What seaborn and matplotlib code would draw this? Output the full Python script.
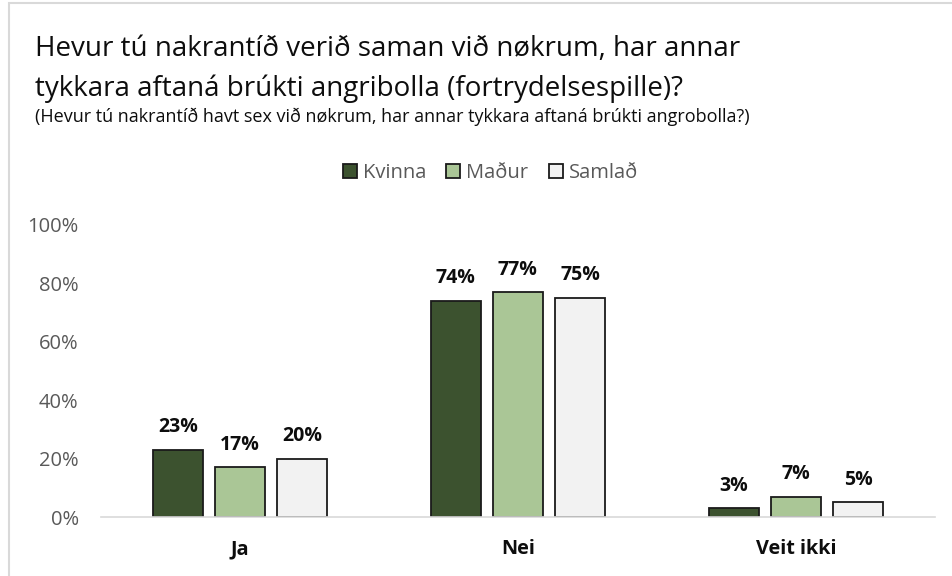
import numpy as np
import pandas as pd
import matplotlib
matplotlib.use("Agg")
import matplotlib.pyplot as plt
import seaborn as sns
from matplotlib.patches import Rectangle

categories = ["Ja", "Nei", "Veit ikki"]
groups = ["Kvinna", "Maður", "Samlað"]
kvinna = [23, 74, 3]
madur = [17, 77, 7]
samlad = [20, 75, 5]
colors = ["#3b5829", "#a9ce8e", "#f2f2f2"]

title = ("Hevur tú nakrantíð verið saman við nøkrum, har annar\n"
         "tykkara aftaná brúkti angribolla (fortrydelsespille)?")
subtitle = "(Hevur tú nakrantíð havt sex við nøkrum, har annar tykkara aftaná brúkti angrobolla?)"

rows = []
for g, vals in zip(groups, [kvinna, madur, samlad]):
    for c, v in zip(categories, vals):
        rows.append({"Svar": c, "Bólkur": g, "Virði": v / 100})
df = pd.DataFrame(rows)

sns.set_theme(style="white")
plt.rcParams['font.family'] = ['Open Sans', 'DejaVu Sans']

fig = plt.figure(figsize=(9.52, 5.76), dpi=100)
ax = fig.add_axes([0.106, 0.1024, 0.876, 0.507])

sns.barplot(data=df, x="Svar", y="Virði", hue="Bólkur", order=categories,
            hue_order=groups, palette=colors, width=0.67, gap=0.2,
            edgecolor="#1a1a1a", linewidth=1.3, ax=ax)

for cont, vals in zip(ax.containers, [kvinna, madur, samlad]):
    ax.bar_label(cont, labels=[f"{v}%" for v in vals], padding=9,
                 fontsize=14, fontweight="bold", color="#0d0d0d")

ax.set_xlim(-0.5, 2.5)
ax.set_ylim(0, 1.0)
ticks = np.arange(0, 1.01, 0.2)
ax.set_yticks(ticks)
ax.set_yticklabels([f"{int(round(t*100))}%" for t in ticks],
                   fontsize=14.5, color="#595959")
ax.tick_params(axis="y", length=0, pad=16)
ax.tick_params(axis="x", length=0, pad=16)
for lab in ax.get_xticklabels():
    lab.set_fontsize(14.3)
    lab.set_fontweight("bold")
    lab.set_color("#0d0d0d")
ax.set_xlabel("")
ax.set_ylabel("")
for s in ["top", "right", "left"]:
    ax.spines[s].set_visible(False)
ax.spines["bottom"].set_color("#d9d9d9")
ax.spines["bottom"].set_linewidth(1.2)

handles, labels = ax.get_legend_handles_labels()
ax.legend(handles, labels, loc="center", bbox_to_anchor=(0.515, 0.70),
          bbox_transform=fig.transFigure, ncol=3, frameon=False,
          fontsize=14.5, handlelength=0.7, handleheight=0.7,
          handletextpad=0.3, columnspacing=1.0, labelcolor="#595959")

fig.text(0.037, 0.94, title, fontsize=20, color="#0d0d0d",
         va="top", ha="left", linespacing=1.55)
fig.text(0.037, 0.797, subtitle, fontsize=13, color="#0d0d0d",
         va="center", ha="left")

fig.add_artist(Rectangle((0.009, -0.1), 2, 1.0948, fill=False,
                         edgecolor="#d9d9d9", linewidth=1.5,
                         transform=fig.transFigure))

fig.savefig("out.png", dpi=100)
